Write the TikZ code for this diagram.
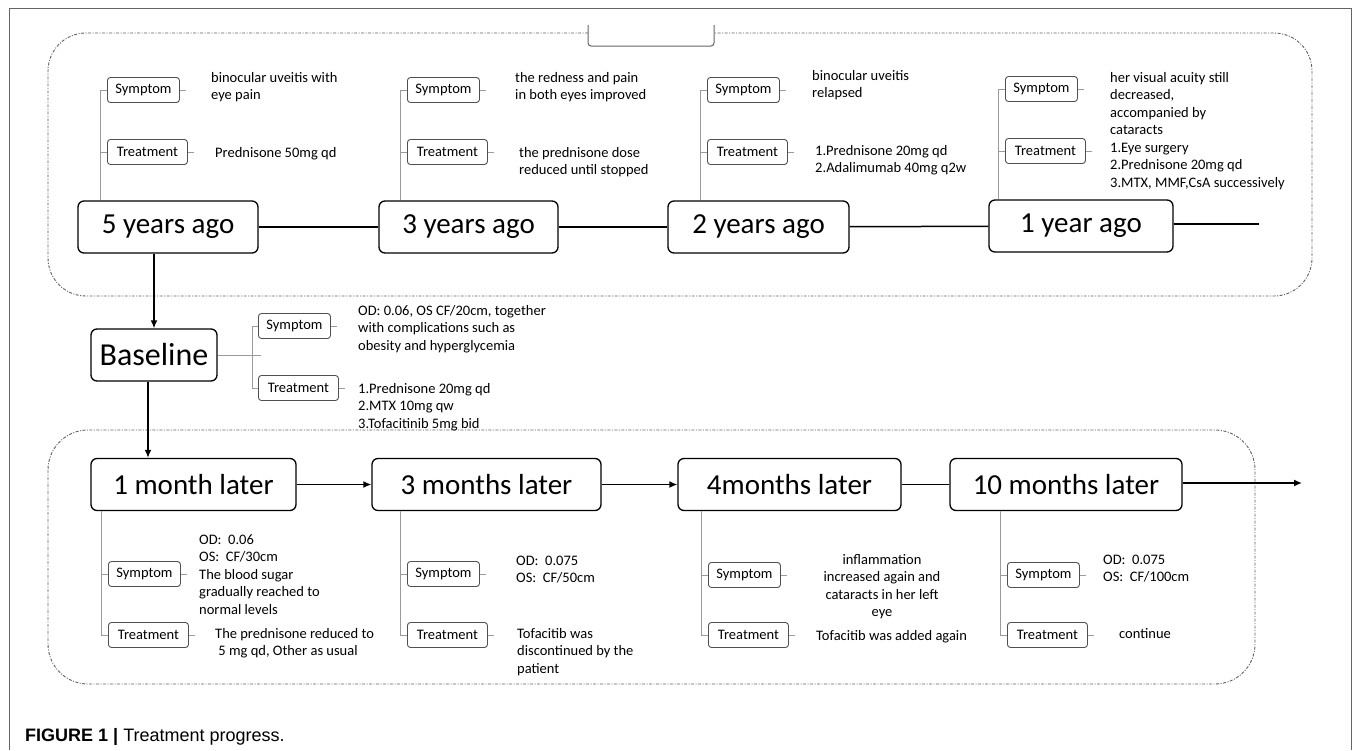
\documentclass[tikz,border=0pt]{standalone}
\usepackage{fontspec}
\setmainfont{Carlito}
\newfontfamily\capfont{Liberation Sans}
\usepackage{tikz}
\definecolor{framegray}{RGB}{100,100,100}
\definecolor{boxgray}{RGB}{80,80,80}
\definecolor{branchgray}{RGB}{155,155,155}
\definecolor{dashgray}{RGB}{95,95,95}
\usetikzlibrary{arrows.meta, positioning, calc}

\tikzset{
    period/.style={draw=black, line width=1.3pt, rounded corners=6pt, minimum height=52pt, inner sep=0pt, font=\fontsize{29}{34}\selectfont},
    tag/.style={draw=boxgray, line width=0.9pt, rounded corners=3pt, minimum height=25pt, inner sep=0pt, anchor=west, font=\fontsize{14.5}{17.5}\selectfont},
    note/.style={inner sep=0pt, align=left, anchor=base west, font=\fontsize{14.5}{17.5}\selectfont},
    branch/.style={draw=branchgray, line width=0.9pt},
    link/.style={draw=black, line width=1.5pt},
    flow/.style={link, -{Latex[length=8pt,width=7pt]}},
    zone/.style={draw=dashgray, line width=0.9pt, dash pattern=on 3pt off 1.5pt on 1pt off 1.5pt},
}

\begin{document}
\begin{tikzpicture}[x=1pt, y=-1pt]
    \useasboundingbox (0,0) rectangle (1355,750);
    \draw[framegray, line width=1pt] (9,750) -- (9,8) -- (1351,8) -- (1351,750);

    \draw[zone, rounded corners=38pt] (588,33) -- (48,33) -- (48,296) -- (1312,296) -- (1312,33) -- (714,33);
    \draw[framegray, line width=1pt, rounded corners=3pt] (588,25) |- (714,46) -- (714,25);
    \draw[zone, rounded corners=40pt] (48,430) rectangle (1255,684);

    % years before
    \node[period, minimum width=180pt] (fiveago) at (168,227) {5 years ago};
    \node[period, minimum width=179pt] (threeago) at (468.5,227) {3 years ago};
    \node[period, minimum width=181pt] (twoago) at (758.5,227) {2 years ago};
    \node[period, minimum width=184pt] (oneago) at (1081,226) {1 year ago};
    \coordinate (topend) at (1259,224);

    \draw[link] (fiveago) -- (threeago);
    \draw[link] (threeago) -- (twoago);
    \draw[link] (twoago) -- (oneago);
    \draw[link] (oneago.east |- topend) -- (topend);

    \node[tag, minimum width=72pt] (s1) at (107,90) {Symptom};
    \node[tag, minimum width=80pt] (t1) at (107,152) {Treatment};
    \node[tag, minimum width=72pt] (s2) at (407,90) {Symptom};
    \node[tag, minimum width=80pt] (t2) at (407,152) {Treatment};
    \node[tag, minimum width=72pt] (s3) at (707,90) {Symptom};
    \node[tag, minimum width=80pt] (t3) at (707,152) {Treatment};
    \node[tag, minimum width=72pt] (s4) at (1005,89) {Symptom};
    \node[tag, minimum width=80pt] (t4) at (1005,151) {Treatment};

    \node[note] (n1) at (211,99.5) {binocular uveitis with\\eye pain};
    \node[note] (m1) at (215,157) {Prednisone 50mg qd};
    \node[note] (n2) at (515,99.5) {the redness and pain\\in both eyes improved};
    \node[note] (m2) at (519,174.5) {the prednisone dose\\reduced until stopped};
    \node[note] (n3) at (812,97.5) {binocular uveitis\\relapsed};
    \node[note] (m3) at (815,172.5) {1.Prednisone 20mg qd\\2.Adalimumab 40mg q2w};
    \node[note] (n4) at (1110,134.5) {her visual acuity still\\decreased,\\accompanied by\\cataracts};
    \node[note] (m4) at (1110,187) {1.Eye surgery\\2.Prednisone 20mg qd\\3.MTX, MMF,CsA successively};

    \draw[branch] (s1.west) -- ++(-7,0) coordinate (j1) -- (j1 |- fiveago.north);
    \draw[branch] (t1.west) -- (t1.west -| j1);
    \draw[branch] (s2.west) -- ++(-7,0) coordinate (j2) -- (j2 |- threeago.north);
    \draw[branch] (t2.west) -- (t2.west -| j2);
    \draw[branch] (s3.west) -- ++(-7,0) coordinate (j3) -- (j3 |- twoago.north);
    \draw[branch] (t3.west) -- (t3.west -| j3);
    \draw[branch] (s4.west) -- ++(-7,0) coordinate (j4) -- (j4 |- oneago.north);
    \draw[branch] (t4.west) -- (t4.west -| j4);

    % baseline
    \node[period, minimum width=126pt, font=\fontsize{32}{36}\selectfont] (baseline) at (154,355) {Baseline};
    \node[tag, minimum width=72pt] (s0) at (258,326) {Symptom};
    \node[tag, minimum width=80pt] (t0) at (258,388) {Treatment};
    \node[note] (n0) at (358,350) {OD: 0.06, OS CF/20cm, together\\with complications such as\\obesity and hyperglycemia};
    \node[note] (m0) at (358,428) {1.Prednisone 20mg qd\\2.MTX 10mg qw\\3.Tofacitinib 5mg bid};

    \draw[branch] (baseline.east) -- ([xshift=3pt]baseline.east -| s0.west);
    \draw[branch] (s0.west) -- ++(-6,0) coordinate (j0) -- (j0 |- t0.west) -- (t0.west);

    % months after
    \node[period, minimum width=205pt] (onemonth) at (193.5,484.5) {1 month later};
    \node[period, minimum width=229pt] (threemonths) at (486.5,484.5) {3 months later};
    \node[period, minimum width=223pt] (fourmonths) at (789.5,484.5) {4months later};
    \node[period, minimum width=232pt] (tenmonths) at (1066,484.5) {10 months later};
    \coordinate (bottomend) at (1302,483);

    \draw[flow] (fiveago.south -| baseline.north) -- (baseline.north);
    \draw[flow] ([xshift=-6pt]baseline.south) -- ([xshift=-6pt]baseline.south |- onemonth.north);
    \draw[flow] (onemonth) -- (threemonths);
    \draw[flow] (threemonths) -- (fourmonths);
    \draw[link] (fourmonths) -- (tenmonths);
    \draw[flow] (tenmonths.east |- bottomend) -- (bottomend);

    \node[tag, minimum width=72pt] (s5) at (108,574) {Symptom};
    \node[tag, minimum width=80pt] (t5) at (108,635) {Treatment};
    \node[tag, minimum width=72pt] (s6) at (407,574) {Symptom};
    \node[tag, minimum width=80pt] (t6) at (407,635) {Treatment};
    \node[tag, minimum width=72pt] (s7) at (708,575) {Symptom};
    \node[tag, minimum width=80pt] (t7) at (708,635) {Treatment};
    \node[tag, minimum width=72pt] (s8) at (1007,575) {Symptom};
    \node[tag, minimum width=80pt] (t8) at (1007,635) {Treatment};

    \node[note] (n5) at (199,614) {OD:\ \ 0.06\\OS:\ \ CF/30cm\\The blood sugar\\gradually reached to\\normal levels};
    \node[note] (m5) at (215,655.5) {The prednisone reduced to\\\ 5 mg qd, Other as usual};
    \node[note] (n6) at (516,582.5) {OD:\ \ 0.075\\OS:\ \ CF/50cm};
    \node[note] (m6) at (517,673) {Tofacitib was\\discontinued by the\\patient};
    \node[note, align=center, anchor=base] (n7) at (882,616.5) {inflammation\\increased again and\\cataracts in her left\\eye};
    \node[note] (m7) at (816,640) {Tofacitib was added again};
    \node[note] (n8) at (1103,581.5) {OD:\ \ 0.075\\OS:\ \ CF/100cm};
    \node[note] (m8) at (1119,638) {continue};

    \draw[branch] (t5.west) -- ++(-7,0) coordinate (j5) -- (j5 |- onemonth.south);
    \draw[branch] (s5.west) -- (s5.west -| j5);
    \draw[branch] (t6.west) -- ++(-7,0) coordinate (j6) -- (j6 |- threemonths.south);
    \draw[branch] (s6.west) -- (s6.west -| j6);
    \draw[branch] (t7.west) -- ++(-7,0) coordinate (j7) -- (j7 |- fourmonths.south);
    \draw[branch] (s7.west) -- (s7.west -| j7);
    \draw[branch] (t8.west) -- ++(-7,0) coordinate (j8) -- (j8 |- tenmonths.south);
    \draw[branch] (s8.west) -- (s8.west -| j8);

    \foreach \t in {s0,t0,s1,t1,s2,t2,s3,t3,s4,t4,s5,t5,s6,t6,s7,t7,s8,t8}
        \draw[branch] (\t.east) -- ++(6,0);

    \node[anchor=base west, inner sep=0pt, font=\capfont\fontsize{18}{21}\selectfont] (caption) at (25,741) {\textbf{FIGURE 1 | }Treatment progress.};
\end{tikzpicture}
\end{document}
